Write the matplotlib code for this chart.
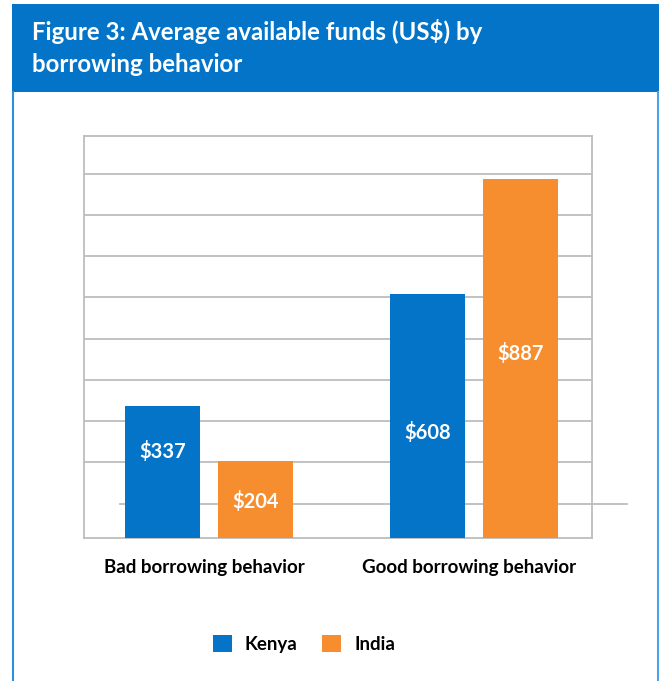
import matplotlib
matplotlib.use("Agg")
import matplotlib.pyplot as plt
import matplotlib.transforms as mtransforms
from matplotlib.patches import Rectangle
import numpy as np

categories = ["Bad borrowing behavior", "Good borrowing behavior"]
series_names = ["Kenya", "India"]
kenya = [337, 608]
india = [204, 887]
grid_values = [100, 200, 300, 400, 500, 600, 700, 800, 900]

BLUE = "#0474C8"
ORANGE = "#F68D2E"
GRID = "#BDBDBD"
FONT = "Lato"

W, H = 659, 681
fig = plt.figure(figsize=(W / 100, H / 100), dpi=100)
fig.patch.set_facecolor("white")

# banner and frame
fig.patches.append(Rectangle((12 / W, 1 - 92 / H), 1 - 12 / W, 88 / H,
                             transform=fig.transFigure, facecolor=BLUE,
                             edgecolor="none", zorder=0))
fig.add_artist(plt.Line2D([13 / W, 13 / W], [0, 1 - 92 / H], color="#2E8FDC",
                          lw=1.5, transform=fig.transFigure))
fig.add_artist(plt.Line2D([657.5 / W, 657.5 / W], [0, 1 - 92 / H], color="#4AA3E8",
                          lw=1.5, transform=fig.transFigure))
fig.text(32 / W, 1 - 32 / H, "Figure 3: Average available funds (US$) by",
         color="white", fontsize=17.3, fontweight="bold", family=FONT, va="center")
fig.text(32 / W, 1 - 64 / H, "borrowing behavior",
         color="white", fontsize=17.3, fontweight="bold", family=FONT, va="center")

ax = fig.add_axes([84 / W, 1 - 538.3 / H, 508 / W, 402.6 / H])
x = np.arange(len(categories))
bw = 0.283
off = 0.1756
b1 = ax.bar(x - off, kenya, bw, color=BLUE, zorder=3, label=series_names[0])
b2 = ax.bar(x + off, india, bw, color=ORANGE, zorder=3, label=series_names[1])
ax.set_xlim(-0.473, 1.446)
ax.set_ylim(16, 992)

for g in grid_values[1:]:
    ax.axhline(g, color=GRID, lw=1.3, zorder=1)
# the odd extended 100 line
trans = mtransforms.blended_transform_factory(ax.transAxes, ax.transData)
ax.plot([(120 - 84) / 508, (627 - 84) / 508], [grid_values[0]] * 2, color=GRID,
        lw=1.3, transform=trans, clip_on=False, zorder=1)

for s in ax.spines.values():
    s.set_color(GRID)
    s.set_linewidth(1.3)
ax.set_yticks([])
ax.set_xticks(x - 0.02)
ax.set_xticklabels(categories, fontsize=13.5, fontweight="bold", family=FONT)
ax.tick_params(axis="x", length=0, pad=15)

label_frac = [[0.675, 0.45], [0.51, 0.524]]
for bars, vals, fr in [(b1, kenya, label_frac[0]), (b2, india, label_frac[1])]:
    for rect, v, f in zip(bars, vals, fr):
        ax.text(rect.get_x() + rect.get_width() / 2, v * f, f"${v}",
                ha="center", va="center", color="white", fontsize=14.5,
                fontweight="bold", family=FONT, zorder=4)

fig.legend(handles=[b1, b2], labels=series_names, loc="center",
           bbox_to_anchor=(304 / W, 1 - 644 / H), ncol=2, frameon=False,
           prop={"family": FONT, "weight": "bold", "size": 13.5},
           handlelength=1.0, handleheight=1.0, columnspacing=1.3, handletextpad=0.7)

fig.savefig("out.png", dpi=100)
